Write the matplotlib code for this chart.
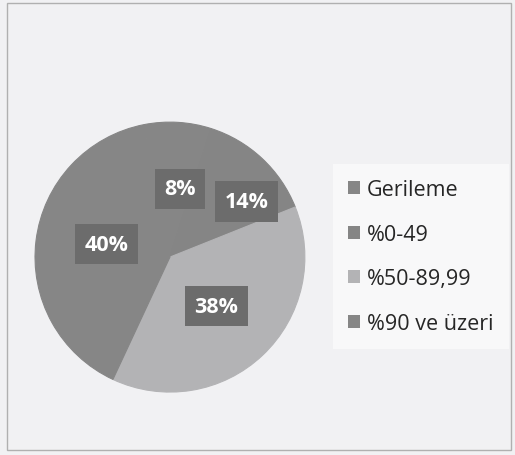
import numpy as np
import matplotlib.pyplot as plt
from matplotlib.patches import Patch, Rectangle

# slice data (Excel style: first slice starts near 12 o'clock, clockwise)
categories = ['Gerileme', '%0-49', '%50-89,99', '%90 ve üzeri']
shares = [8, 14, 38, 40]
colors = ['#868686', '#858585', '#b3b3b5', '#868686']

# where the boxed labels sit (radius as fraction, angle nudge in degrees)
label_r = [0.51, 0.70, 0.50, 0.48]
label_nudge = [-5, -11, 0, -4.5]

plt.rcParams['font.family'] = ['Open Sans', 'DejaVu Sans']

fig = plt.figure(figsize=(5.15, 4.56), dpi=100)
fig.patch.set_facecolor('#f1f1f3')
# scanned frame edge
fig.add_artist(Rectangle((0.013, 0.011), 0.98, 0.98, transform=fig.transFigure,
                         fill=False, edgecolor='#b0b0b0', linewidth=1.0))

ax = fig.add_axes([0.068, 0.138, 0.524, 0.592])
wedges, texts, autotexts = ax.pie(shares, colors=colors, startangle=101,
                                  counterclock=False, autopct='%d%%',
                                  wedgeprops=dict(linewidth=0.8),
                                  textprops=dict(color='white', fontsize=15.5,
                                                 fontweight='bold'))
ax.set_xlim(-1, 1)
ax.set_ylim(-1, 1)
ax.set_aspect('auto')

for w, c in zip(wedges, colors):
    w.set_edgecolor(c)  # hide the thin seams between same-ish greys

for w, t, r, dn in zip(wedges, autotexts, label_r, label_nudge):
    mid = np.deg2rad((w.theta1 + w.theta2) / 2 + dn)
    t.set_position((r * np.cos(mid), r * np.sin(mid)))
    t.set_bbox(dict(boxstyle='square,pad=0.45', facecolor='#6c6c6c',
                    edgecolor='none'))

handles = [Patch(facecolor=c, edgecolor='none') for c in colors]
leg = fig.legend(handles, categories, loc='center left',
                 bbox_to_anchor=(0.625, 0.435), frameon=True, fontsize=15.5,
                 handlelength=0.55, handleheight=0.55, handletextpad=0.35,
                 labelspacing=1.1, borderpad=0.7, fancybox=False)
leg.get_frame().set_facecolor('#fbfbfb')
leg.get_frame().set_edgecolor('none')
for tx in leg.get_texts():
    tx.set_color('#262626')

plt.savefig('out.png', dpi=100, facecolor=fig.get_facecolor())
